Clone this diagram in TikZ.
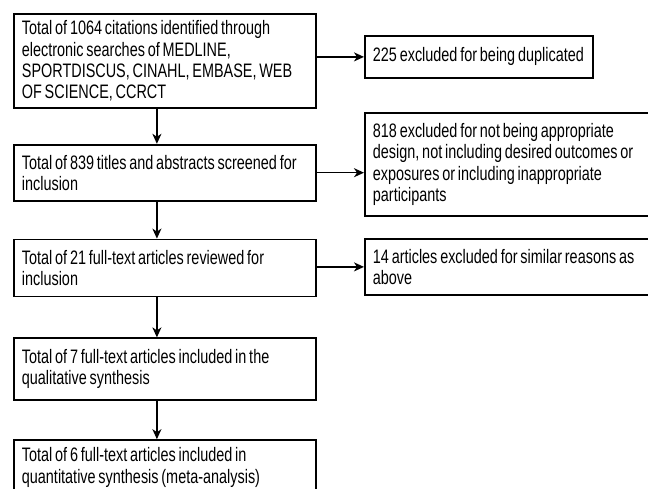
\documentclass[tikz,border=0pt]{standalone}
\usepackage{fontspec}
\setmainfont[FakeStretch=0.74,WordSpace=0.7]{Liberation Sans}
\usetikzlibrary{arrows.meta,positioning}
\hyphenpenalty=10000
\tikzset{
  prismabox/.style={draw, line width=1.8pt, align=flush left, anchor=north west, inner xsep=8pt, inner ysep=0pt, font=\fontsize{19.5}{21.3}\selectfont},
  leftbox/.style={prismabox, text width=286pt},
  rightbox/.style={prismabox, text width=272pt},
  prismaarrow/.style={-{Stealth[length=10pt,width=9pt,inset=3pt]}, line width=1.6pt}
}

\begin{document}
\begin{tikzpicture}[x=1pt, y=-1pt]
\useasboundingbox (0,0) rectangle (648,489);

\node[leftbox, minimum height=94pt] (search) at (13,13) {Total of 1064 citations identified through\\electronic searches of MEDLINE,\\SPORTDISCUS, CINAHL, EMBASE, WEB\\OF SCIENCE, CCRCT};
\node[leftbox, minimum height=56pt, below=35pt of search] (screened) {Total of 839 titles and abstracts screened for\\inclusion};
\node[leftbox, minimum height=57pt, below=37pt of screened] (fulltext) {Total of 21 full-text articles reviewed for\\inclusion};
\node[leftbox, minimum height=62pt, below=40pt of fulltext] (qualitative) {Total of 7 full-text articles included in the\\qualitative synthesis};
\node[leftbox, minimum height=55pt, below=38pt of qualitative] (quantitative) {Total of 6 full-text articles included in\\quantitative synthesis (meta-analysis)};

\node[rightbox, text width=212pt, minimum height=42pt] (duplicates) at (364,35) {225 excluded for being duplicated};
\node[rightbox, minimum height=103pt] (design) at (364,112) {818 excluded for not being appropriate\\design, not including desired outcomes or\\exposures or including inappropriate\\participants};
\node[rightbox, minimum height=56pt] (similar) at (364,238) {14 articles excluded for similar reasons as\\above};

\draw[prismaarrow] (duplicates.west -| search.east) -- (duplicates.west);
\draw[prismaarrow] ([xshift=-8pt]search.south) -- ([xshift=-8pt]screened.north);
\draw[prismaarrow] (screened.east) -- (screened.east -| design.west);
\draw[prismaarrow] ([xshift=-8pt]screened.south) -- ([xshift=-8pt]fulltext.north);
\draw[prismaarrow] (similar.west -| fulltext.east) -- (similar.west);
\draw[prismaarrow] ([xshift=-8pt]fulltext.south) -- ([xshift=-8pt]qualitative.north);
\draw[prismaarrow] ([xshift=-8pt]qualitative.south) -- ([xshift=-8pt]quantitative.north);
\end{tikzpicture}
\end{document}
